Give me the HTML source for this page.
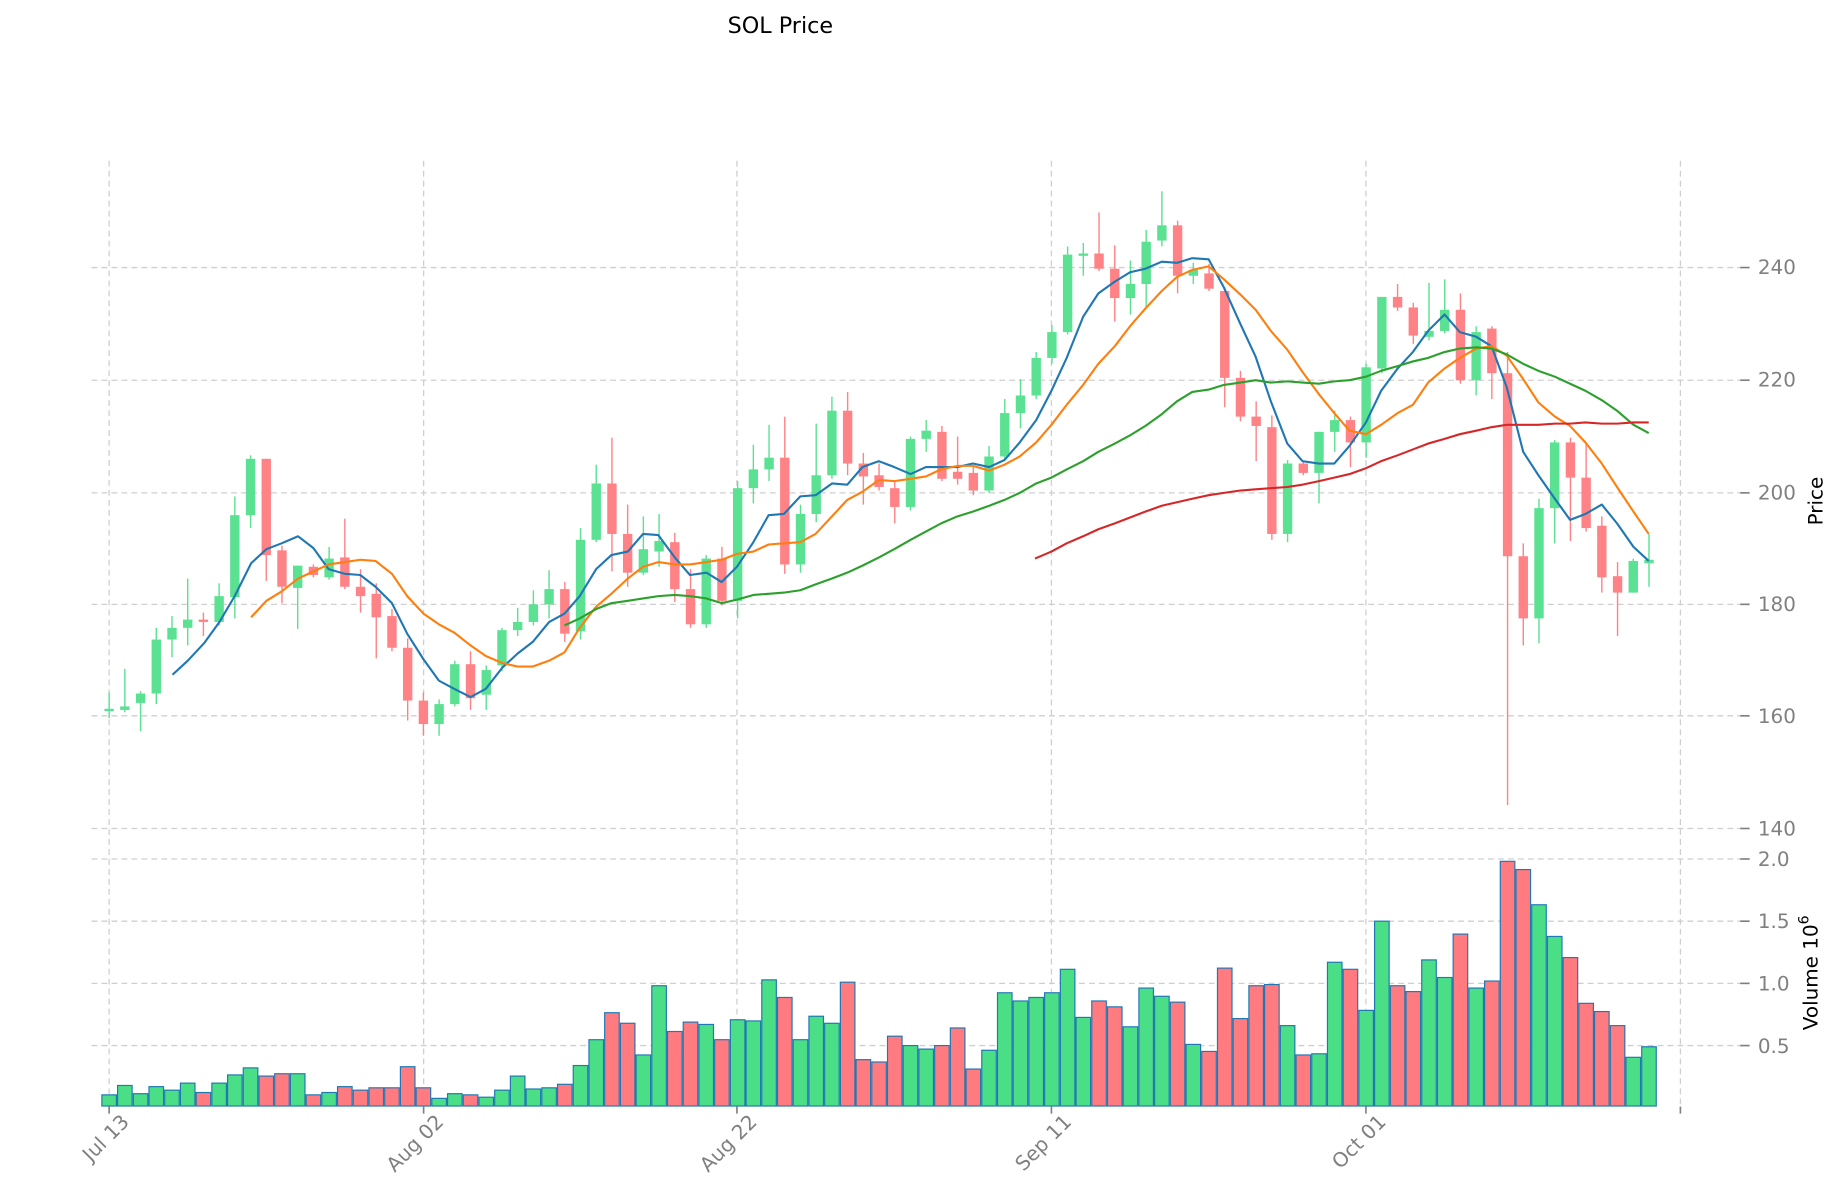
<!DOCTYPE html>
<html><head><meta charset="utf-8"><style>
html,body{margin:0;padding:0;background:#fff;}
svg{display:block;}
text{font-family:"DejaVu Sans","Liberation Sans",sans-serif;}
</style></head><body>
<svg id="c" width="1840" height="1202" viewBox="0 0 1568 1024.3" preserveAspectRatio="none" xmlns="http://www.w3.org/2000/svg">
<rect x="0" y="0" width="1568" height="1024.3" fill="#fff"/>
<g id="grid" stroke="#cfcfcf" stroke-width="1.1" stroke-dasharray="5,3.5" fill="none"></g>
<g id="vol"></g>
<g id="cand"></g>
<g id="ma" fill="none" stroke-width="1.8" stroke-linejoin="round"></g>
<g id="ticks" stroke="#808080" stroke-width="1.4"></g>
<text x="665" y="28" font-size="19" text-anchor="middle" fill="#000">SOL Price</text>
<g font-size="17" fill="#808080">
<text x="1498" y="233.5">240</text>
<text x="1498" y="329.5">220</text>
<text x="1498" y="425.5">200</text>
<text x="1498" y="520.5">180</text>
<text x="1498" y="616">160</text>
<text x="1498" y="712">140</text>
<text x="1498" y="738">2.0</text>
<text x="1498" y="791">1.5</text>
<text x="1498" y="844">1.0</text>
<text x="1498" y="897.5">0.5</text>
</g>
<text transform="translate(1553,427) rotate(-90)" font-size="17" text-anchor="middle" fill="#000">Price</text>
<text transform="translate(1549,829) rotate(-90)" font-size="17" text-anchor="middle" fill="#000">Volume  10<tspan dy="-8" font-size="12">6</tspan></text>
<g font-size="17" fill="#808080" text-anchor="end">
<text transform="translate(111,957) rotate(-45)">Jul 13</text>
<text transform="translate(379,957) rotate(-45)">Aug 02</text>
<text transform="translate(646,957) rotate(-45)">Aug 22</text>
<text transform="translate(914,957) rotate(-45)">Sep 11</text>
<text transform="translate(1182,957) rotate(-45)">Oct 01</text>
</g>
</svg>
<script>
var NS="http://www.w3.org/2000/svg";
function el(p,t,a){var e=document.createElementNS(NS,t);for(var k in a)e.setAttribute(k,a[k]);document.getElementById(p).appendChild(e);return e;}
// grid
[228,324,420,515,610,706,732,785,838,891].forEach(function(y){el('grid','line',{x1:78,y1:y,x2:1484,y2:y});});
[93,361,628,896,1164,1432].forEach(function(x){el('grid','line',{x1:x,y1:137,x2:x,y2:944});});
[228,324,420,515,610,706,732,785,838,891].forEach(function(y){el('ticks','line',{x1:1483,y1:y,x2:1491,y2:y});});
[93,361,628,896,1164,1432].forEach(function(x){el('ticks','line',{x1:x,y1:943,x2:x,y2:949});});
// candles: [o,c,h,l]
var C=[[606,604,590,612],[605,602,570,607],[599,591,589,623],[591,545,535,600],[545,535,525,560],[535,528,493,550],[528,530,522,542],[530,508,497,533],[509,439,423,527],[439,391,388,450],
[391,473,391,495],[469,500,465,514],[501,482,482,536],[483,490,481,492],[492,476,466,494],[475,500,442,502],[500,508,485,522],[506,526,497,561],[525,552,519,555],[552,597,544,614],
[597,617,590,627],[617,600,596,627],[600,566,563,602],[566,595,555,605],[592,571,567,605],[567,537,535,572],[537,530,518,542],[530,515,503,533],[515,502,486,527],[502,540,496,547],
[538,460,450,545],[460,412,396,462],[412,455,373,487],[455,488,430,500],[488,468,440,490],[470,461,438,483],[462,502,454,513],[502,532,485,535],[532,476,473,535],[476,512,466,516],
[512,416,410,527],[416,400,379,429],[400,390,362,410],[390,481,355,489],[481,438,430,488],[438,405,361,445],[405,350,338,408],[350,395,334,405],[395,406,386,430],[405,415,395,418],
[416,432,410,446],[432,374,372,435],[374,367,358,385],[368,408,363,410],[402,408,372,413],[403,418,398,422],[418,389,380,420],[389,352,340,392],[352,337,323,365],[337,305,300,340],
[305,283,277,310],[283,217,210,285],[218,216,207,235],[216,229,181,231],[229,254,209,274],[254,242,222,268],[242,206,196,262],[205,192,163,210],[192,235,188,250],[235,230,224,242],
[233,246,225,248],[248,322,245,347],[322,355,316,359],[355,363,342,393],[364,455,354,460],[455,395,392,462],[395,403,393,405],[403,368,368,429],[368,358,350,385],[358,377,355,398],
[377,313,310,390],[314,253,253,318],[253,262,242,265],[262,286,258,293],[287,282,241,290],[282,264,238,284],[264,324,250,327],[324,283,278,337],[280,318,278,340],[318,474,300,686],
[474,527,463,550],[527,433,425,548],[433,377,375,463],[377,407,373,461],[407,450,378,453],[448,492,440,505],[491,505,479,542],[505,478,476,505],[480,477,455,500]];
var V=[933,925,932,926,929,923,931,923,916,910,917,915,915,933,931,926,929,927,927,909,927,936,932,933,935,929,917,928,927,924,908,886,863,872,899,840,879,871,873,886,869,870,835,850,886,866,872,837,903,905,883,891,894,891,876,911,895,846,853,850,846,826,867,853,858,875,842,849,854,890,896,825,868,840,839,874,899,898,820,826,861,785,840,845,818,833,796,842,836,734,741,771,798,816,855,862,874,901,892];
var G="#5be192",R="#ff8386";
for(var i=0;i<C.length;i++){
 var x=93+13.39*i,c=C[i],up=c[1]<=c[0],col=up?G:R;
 el('cand','line',{x1:x,y1:c[2],x2:x,y2:c[3],stroke:col,'stroke-width':1.2});
 var t=Math.min(c[0],c[1]),h=Math.max(Math.abs(c[0]-c[1]),1.5);
 el('cand','rect',{x:x-4,y:t,width:8,height:h,fill:col});
 el('vol','rect',{x:x-6.2,y:V[i],width:12.4,height:942.5-V[i],fill:up?"#4ade86":"#ff7b80",stroke:"#1f77b4","stroke-width":1});
}
function pl(col,s){el('ma','polyline',{points:s,stroke:col});}
pl('#1f77b4',"147,575 160,563 174,548 187,530 200,508 214,480 227,468 240,463 254,457 267,467 280,485 294,489 307,490 320,500 334,514 347,540 361,562 374,580 387,587 401,594 414,587 428,569 441,557 454,547 468,530 481,523 494,508 508,485 521,473 535,470 548,455 561,456 575,475 588,490 602,488 615,496 628,483 642,462 655,439 668,438 682,423 695,422 709,412 722,413 735,398 749,393 762,398 776,404 789,398 802,398 816,398 829,395 843,398 856,392 869,377 883,358 896,333 909,305 923,270 936,250 950,240 963,232 976,229 990,223 1003,224 1016,220 1030,221 1043,245 1057,276 1070,304 1083,342 1097,378 1110,393 1124,395 1137,395 1150,380 1164,360 1177,333 1191,314 1204,300 1217,282 1231,268 1244,283 1258,287 1271,295 1284,330 1298,385 1311,405 1325,425 1338,443 1351,438 1365,430 1378,446 1392,466 1405,478");
pl('#ff7f0e',"214,526 227,512 240,504 254,493 267,487 280,481 294,479 307,477 320,478 334,489 347,508 361,523 374,532 387,539 401,550 414,559 428,565 441,568 454,568 468,563 481,556 494,535 508,517 521,506 535,493 548,483 561,479 575,481 588,481 602,479 615,477 628,472 642,470 655,464 668,463 682,462 695,455 709,440 722,426 735,419 749,409 762,410 776,408 789,406 802,400 816,397 829,397 843,401 856,396 869,389 883,377 896,362 909,345 923,328 936,310 950,295 963,278 976,263 990,248 1003,236 1016,230 1030,227 1043,238 1057,251 1070,264 1083,282 1097,298 1110,317 1124,336 1137,352 1150,367 1164,370 1177,362 1191,352 1204,345 1217,326 1231,314 1244,305 1258,297 1271,295 1284,303 1298,323 1311,343 1325,355 1338,363 1351,377 1365,395 1378,415 1392,436 1405,455");
pl('#2ca02c',"481,533 494,527 508,519 521,514 535,512 548,510 561,508 575,507 588,508 602,510 615,514 628,511 642,507 655,506 668,505 682,503 695,498 709,493 722,488 735,482 749,475 762,468 776,460 789,453 802,446 816,440 829,436 843,431 856,426 869,420 883,412 896,407 909,400 923,393 936,385 950,378 963,371 976,363 990,353 1003,342 1016,334 1030,332 1043,328 1057,326 1070,324 1083,326 1097,325 1110,326 1124,327 1137,325 1150,324 1164,321 1177,316 1191,312 1204,308 1217,305 1231,300 1244,297 1258,296 1271,297 1284,302 1298,310 1311,316 1325,321 1338,327 1351,333 1365,341 1378,350 1392,362 1405,369");
pl('#d62728',"882,476 896,470 909,463 923,457 936,451 950,446 963,441 976,436 990,431 1003,428 1016,425 1030,422 1043,420 1057,418 1070,417 1083,416 1097,415 1110,413 1124,410 1137,407 1150,404 1164,399 1177,393 1191,388 1204,383 1217,378 1231,374 1244,370 1258,367 1271,364 1284,362 1298,362 1311,362 1325,361 1338,361 1351,360 1365,361 1378,361 1392,360 1405,360");
</script>
</body></html>
